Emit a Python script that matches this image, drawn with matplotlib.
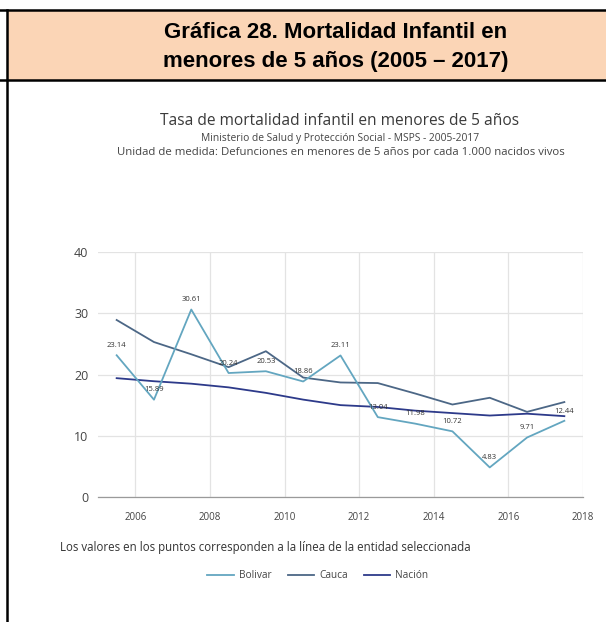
import matplotlib.pyplot as plt
import matplotlib as mpl
from matplotlib.patches import Rectangle
from matplotlib.lines import Line2D

### Data
years = [2005, 2006, 2007, 2008, 2009, 2010, 2011, 2012, 2013, 2014, 2015, 2016, 2017]
bolivar = [23.14, 15.89, 30.61, 20.24, 20.53, 18.86, 23.11, 13.04, 11.98, 10.72, 4.83, 9.71, 12.44]
cauca = [28.9, 25.3, 23.3, 21.2, 23.8, 19.5, 18.7, 18.6, 16.9, 15.1, 16.2, 13.9, 15.5]
nacion = [19.4, 18.9, 18.5, 17.9, 17.0, 15.9, 15.0, 14.7, 14.1, 13.7, 13.3, 13.6, 13.2]
x_ticks = [2006, 2008, 2010, 2012, 2014, 2016, 2018]
y_ticks = [0, 10, 20, 30, 40]

### Style
W, H = 606, 622
DPI = 100
COLOR_BOLIVAR = "#63a6c0"
COLOR_CAUCA = "#4c6786"
COLOR_NACION = "#2d3a8a"
GRID_COLOR = "#e3e3e3"
TEXT_COLOR = "#444444"

mpl.rcParams["font.family"] = ["Open Sans", "DejaVu Sans"]


def px(x, y):
    # pixel coords (top-left origin) -> figure fraction
    return x / W, 1 - y / H


fig = plt.figure(figsize=(W / DPI, H / DPI), dpi=DPI)

### Header band + table borders
fig.patches.append(
    Rectangle(px(7, 80), (W - 7) / W, 70 / H, transform=fig.transFigure,
              facecolor="#fbd5b6", edgecolor="none", zorder=0)
)
for (x0, y0), (x1, y1) in [((0, 10), (W, 10)), ((0, 80), (W, 80)), ((7, 10), (7, H))]:
    (fx0, fy0), (fx1, fy1) = px(x0, y0), px(x1, y1)
    fig.lines.append(Line2D([fx0, fx1], [fy0, fy1], transform=fig.transFigure,
                            color="black", linewidth=1.8, zorder=2))

fig.text(*px(336, 33), "Gráfica 28. Mortalidad Infantil en", ha="center", va="center",
         fontsize=16, fontweight="bold", family="Liberation Sans")
fig.text(*px(336, 62), "menores de 5 años (2005 – 2017)", ha="center", va="center",
         fontsize=16, fontweight="bold", family="Liberation Sans")

### Chart titles
fig.text(*px(340, 121), "Tasa de mortalidad infantil en menores de 5 años", ha="center",
         va="center", fontsize=11.2, color="#3a3a3a")
fig.text(*px(340, 138), "Ministerio de Salud y Protección Social - MSPS - 2005-2017",
         ha="center", va="center", fontsize=7.4, color=TEXT_COLOR)
fig.text(*px(341, 152),
         "Unidad de medida: Defunciones en menores de 5 años por cada 1.000 nacidos vivos",
         ha="center", va="center", fontsize=8.2, color=TEXT_COLOR)

### Axes
left, bottom = px(98, 497)
ax = fig.add_axes([left, bottom, 485 / W, 245 / H])

xs = [y + 0.5 for y in years]
ax.plot(xs, bolivar, color=COLOR_BOLIVAR, linewidth=1.3, label="Bolivar", zorder=4)
ax.plot(xs, cauca, color=COLOR_CAUCA, linewidth=1.3, label="Cauca", zorder=3)
ax.plot(xs, nacion, color=COLOR_NACION, linewidth=1.3, label="Nación", zorder=3)

for x, v in zip(xs, bolivar):
    ax.annotate(f"{v:.2f}", (x, v), xytext=(0, 7), textcoords="offset points",
                ha="center", va="center", fontsize=5.5, color="#333333", zorder=5)

ax.set_xlim(2005, 2018)
ax.set_ylim(0, 40)
ax.set_xticks(x_ticks)
ax.set_yticks(y_ticks)
ax.set_xticklabels([str(t) for t in x_ticks], fontsize=7, color=TEXT_COLOR)
ax.set_yticklabels([str(t) for t in y_ticks], fontsize=9, color=TEXT_COLOR)
ax.tick_params(length=0)
ax.tick_params(axis="y", pad=7)
ax.tick_params(axis="x", pad=11)
ax.grid(True, color=GRID_COLOR, linewidth=0.9)
ax.set_axisbelow(True)
for side in ["top", "right", "left"]:
    ax.spines[side].set_visible(False)
ax.spines["bottom"].set_color("#9a9a9a")
ax.spines["bottom"].set_linewidth(0.9)

### Footnote and legend
fig.text(*px(60, 548), "Los valores en los puntos corresponden a la línea de la entidad seleccionada",
         ha="left", va="center", fontsize=8.3, color="#333333")
handles, labels = ax.get_legend_handles_labels()
fig.legend(handles, labels, loc="center", bbox_to_anchor=px(318, 576), ncol=3,
           frameon=False, fontsize=7.3, handlelength=2.6, handletextpad=0.5,
           columnspacing=1.6, labelcolor=TEXT_COLOR)

fig.savefig("out.png", dpi=DPI)
